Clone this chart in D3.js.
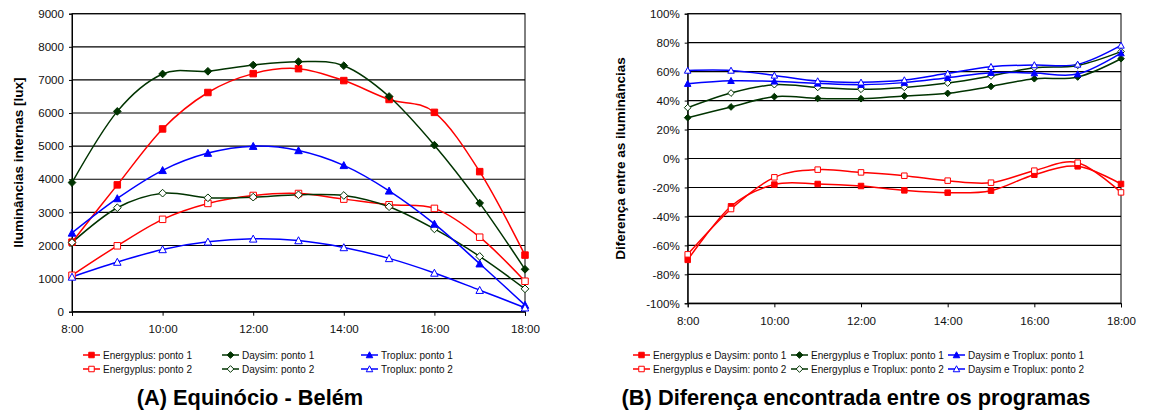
<!DOCTYPE html>
<html><head><meta charset="utf-8">
<script src="https://cdn.jsdelivr.net/npm/d3@7"></script>
<style>
body{margin:0;background:#fff;}
svg{display:block;font-family:"Liberation Sans",Arial,sans-serif;}
</style></head>
<body><svg id="c" width="1149" height="414"></svg>
<script>
const hours = [8,9,10,11,12,13,14,15,16,17,18];
const xTickHours = [8,10,12,14,16,18];
const xTickLabels = ["8:00","10:00","12:00","14:00","16:00","18:00"];
const yTicksA = [0,1000,2000,3000,4000,5000,6000,7000,8000,9000];
const yTicksB = [-100,-80,-60,-40,-20,0,20,40,60,80,100];

// Chart A: internal illuminance [lux]
const energyP1 = [2100,3830,5520,6620,7190,7340,6980,6410,6020,4230,1710];
const daysimP1 = [3900,6050,7180,7260,7450,7550,7430,6500,5030,3280,1280];
const trofluxP1 = [2380,3420,4270,4790,5000,4870,4420,3650,2650,1450,200];
const energyP2 = [1100,1990,2790,3270,3510,3570,3400,3230,3120,2250,920];
const daysimP2 = [2090,3140,3580,3440,3460,3530,3510,3170,2500,1670,690];
const trofluxP2 = [1050,1500,1880,2110,2200,2150,1940,1610,1170,650,120];
const seriesNamesA = ["Energyplus: ponto 1","Energyplus: ponto 2","Daysim: ponto 1","Daysim: ponto 2","Troplux: ponto 1","Troplux: ponto 2"];

// Chart B: differences [%]
const edP1 = [-70,-33,-18,-17.6,-19,-22,-23.6,-22.2,-11.2,-5.4,-17.6];
const edP2 = [-66.2,-34.9,-13,-7.7,-9.6,-11.9,-15.3,-16.7,-8.4,-2.9,-23.4];
const etP1 = [28.2,35.6,42.7,41.5,41.3,43.2,45,49.8,55.1,56.3,68.9];
const etP2 = [35.1,45.2,51,49.1,47.8,49.1,52.1,57,62.7,64.3,73.8];
const dtP1 = [51.7,53.7,53.3,51.9,51,52.4,55.8,59.3,59,58.3,72.8];
const dtP2 = [60.8,60.8,57.4,53.5,52.6,54.2,58.8,63.4,64.6,65,78.1];
const seriesNamesB = ["Energyplus e Daysim: ponto 1","Energyplus e Daysim: ponto 2","Energyplus e Troplux: ponto 1","Energyplus e Troplux: ponto 2","Daysim e Troplux: ponto 1","Daysim e Troplux: ponto 2"];

const RED="#ff0000", GREEN="#003300", BLUE="#0000ff";
const styles = [
  {color:RED, shape:"square", filled:true},
  {color:RED, shape:"square", filled:false},
  {color:GREEN, shape:"diamond", filled:true},
  {color:GREEN, shape:"diamond", filled:false},
  {color:BLUE, shape:"triangle", filled:true},
  {color:BLUE, shape:"triangle", filled:false}
];

const svg = d3.select("#c");

function markerPath(shape, s){
  const h = s/2;
  if(shape==="square") return `M${-h},${-h}H${h}V${h}H${-h}Z`;
  if(shape==="diamond") return `M0,${-h-0.6}L${h+0.6},0L0,${h+0.6}L${-h-0.6},0Z`;
  return `M0,${-h-0.5}L${h+0.5},${h}L${-h-0.5},${h}Z`;
}

function drawMarker(g, x, y, st, s){
  g.append("path").attr("d", markerPath(st.shape, s))
    .attr("transform",`translate(${x},${y})`)
    .attr("fill", st.filled ? st.color : "#fff")
    .attr("stroke", st.color).attr("stroke-width",1);
}

function chart(cfg){
  const g = svg.append("g");
  const x = d3.scaleLinear().domain([8,18]).range([cfg.x0, cfg.x1]);
  const y = d3.scaleLinear().domain(cfg.domain).range([cfg.y1, cfg.y0]);
  // gridlines
  g.selectAll(".grid").data(cfg.yTicks).enter().append("line")
    .attr("x1",cfg.x0).attr("x2",cfg.x1)
    .attr("y1",d=>y(d)).attr("y2",d=>y(d))
    .attr("stroke","#000").attr("stroke-width",1.15);
  // frame
  g.append("rect").attr("x",cfg.x0).attr("y",cfg.y0)
    .attr("width",cfg.x1-cfg.x0).attr("height",cfg.y1-cfg.y0)
    .attr("fill","none").attr("stroke","#000").attr("stroke-width",1);
  // y axis
  const ya = d3.axisLeft(y).tickValues(cfg.yTicks).tickSize(3).tickPadding(5).tickFormat(cfg.yFmt);
  const yg = g.append("g").attr("transform",`translate(${cfg.x0},0)`).call(ya);
  // x axis
  const xa = d3.axisBottom(x).tickValues(xTickHours).tickSize(4).tickPadding(9)
    .tickFormat((d,i)=>xTickLabels[i]);
  const xg = g.append("g").attr("transform",`translate(0,${cfg.y1})`).call(xa);
  [yg,xg].forEach(a=>{
    a.select(".domain").attr("stroke","#000");
    a.selectAll(".tick line").attr("stroke","#000");
    a.selectAll("text").attr("font-size","11.6px").attr("fill","#111")
      .attr("font-family","'Liberation Sans',Arial,sans-serif");
  });
  // y title
  g.append("text").attr("transform",`translate(${cfg.titleX},${(cfg.y0+cfg.y1)/2}) rotate(-90)`)
    .attr("text-anchor","middle").attr("dy","0.35em")
    .attr("font-size","13.5px").attr("font-weight","bold").text(cfg.yTitle);
  // lines
  const line = d3.line().x((d,i)=>x(hours[i])).y(d=>y(d)).curve(d3.curveCatmullRom.alpha(0));
  cfg.series.forEach((vals,k)=>{
    const st = styles[k];
    g.append("path").attr("d", line(vals)).attr("fill","none")
      .attr("stroke", st.color).attr("stroke-width",1.5);
  });
  cfg.series.forEach((vals,k)=>{
    const st = styles[k];
    vals.forEach((v,i)=> drawMarker(g, x(hours[i]), y(v), st, cfg.ms));
  });
  // legend
  const order = [0,2,4,1,3,5];
  order.forEach((k,j)=>{
    const col = j%3, row = Math.floor(j/3);
    const lx = cfg.legX[col], ly = cfg.legY[row];
    const st = styles[k];
    g.append("line").attr("x1",lx).attr("x2",lx+17).attr("y1",ly).attr("y2",ly)
      .attr("stroke",st.color).attr("stroke-width",1.5);
    drawMarker(g, lx+8.5, ly, st, 5.5);
    g.append("text").attr("x",lx+20).attr("y",ly).attr("dy","0.35em")
      .attr("font-size","10px").attr("fill","#111").text(cfg.names[k]);
  });
  // title
  g.append("text").attr("x",cfg.titleCx).attr("y",405).attr("text-anchor","middle")
    .attr("font-size","21.8px").attr("font-weight","bold").text(cfg.title);
}

chart({x0:72, x1:525, y0:13.7, y1:311.7, domain:[0,9000], yTicks:yTicksA,
  yFmt:d=>String(d), yTitle:"Iluminâncias internas [lux]", titleX:18,
  series:[energyP1,energyP2,daysimP1,daysimP2,trofluxP1,trofluxP2], ms:6.5,
  names:seriesNamesA, legX:[83,222,361], legY:[355,369],
  title:"(A) Equinócio - Belém", titleCx:250});

chart({x0:687.7, x1:1121, y0:13.7, y1:303.3, domain:[-100,100], yTicks:yTicksB,
  yFmt:d=>d+"%", yTitle:"Diferença entre as iluminâncias", titleX:620,
  series:[edP1,edP2,etP1,etP2,dtP1,dtP2], ms:5.5,
  names:seriesNamesB, legX:[633,791,948], legY:[355,369],
  title:"(B) Diferença encontrada entre os programas", titleCx:856});
</script>
</body></html>
